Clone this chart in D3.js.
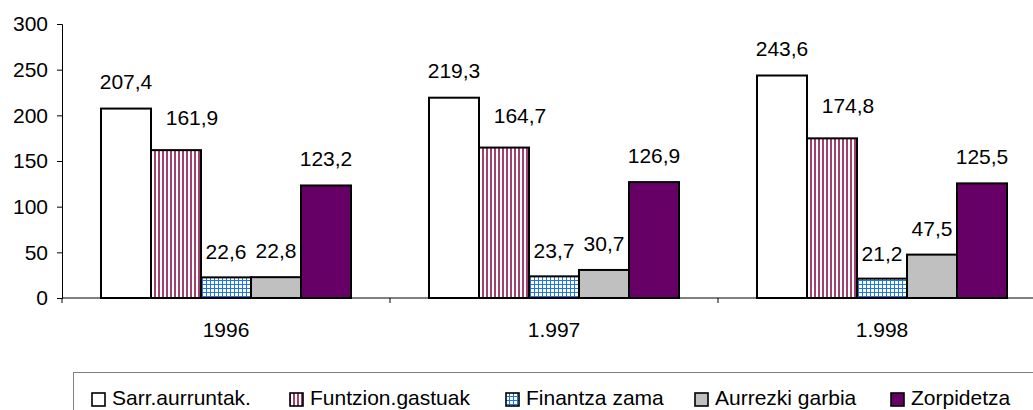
<!DOCTYPE html>
<html>
<head>
<meta charset="utf-8">
<script src="https://cdn.jsdelivr.net/npm/d3@7"></script>
<style>
  body { margin: 0; background: #fff; }
  svg { display: block; font-family: "Liberation Sans", Arial, sans-serif; }
</style>
</head>
<body>
<script>
// data
var urteak = ["1996", "1.997", "1.998"];
var serieak = ["Sarr.aurruntak.", "Funtzion.gastuak", "Finantza zama", "Aurrezki garbia", "Zorpidetza"];
var balioak = [
  [207.4, 219.3, 243.6],
  [161.9, 164.7, 174.8],
  [22.6, 23.7, 21.2],
  [22.8, 30.7, 47.5],
  [123.2, 126.9, 125.5]
];
var yTicks = [0, 50, 100, 150, 200, 250, 300];

var W = 1033, H = 410;
var margin = {top: 24, left: 62, bottom: 112};
var catW = 328;
var fs = "21px";

var svg = d3.select("body").append("svg")
    .attr("width", W)
    .attr("height", H);

var defs = svg.append("defs");

// marra bertikalak
var p1 = defs.append("pattern").attr("id", "marrak")
    .attr("patternUnits", "userSpaceOnUse").attr("width", 4).attr("height", 4);
p1.append("rect").attr("width", 4).attr("height", 4).attr("fill", "#fff");
p1.append("rect").attr("x", 0).attr("width", 2).attr("height", 4).attr("fill", "#a0406e");

// sareta urdina
var p2 = defs.append("pattern").attr("id", "sareta")
    .attr("patternUnits", "userSpaceOnUse").attr("width", 4).attr("height", 4);
p2.append("rect").attr("width", 4).attr("height", 4).attr("fill", "#fff");
p2.append("rect").attr("x", 0).attr("width", 1).attr("height", 4).attr("fill", "#1f78e0");
p2.append("rect").attr("y", 0).attr("width", 4).attr("height", 1).attr("fill", "#1f78e0");

var fills = ["#ffffff", "url(#marrak)", "url(#sareta)", "#c0c0c0", "#660066"];
var labelDx = [0, 16, 0, 0, 0];
var labelDy = [-20, -25, -18, -19, -19];

var x0 = d3.scaleBand().domain(urteak).range([margin.left, margin.left + catW * urteak.length]);
var x1 = d3.scaleBand().domain(d3.range(serieak.length)).range([39, catW - 39]);
var y = d3.scaleLinear().domain([0, 300]).range([H - margin.bottom, margin.top]);

// ardatz horizontala
var xAxis = svg.append("g")
    .attr("transform", "translate(0," + y(0) + ")");
xAxis.append("line")
    .attr("x1", margin.left).attr("x2", margin.left + catW * urteak.length)
    .attr("stroke", "#000").attr("stroke-width", 1);
xAxis.selectAll(".sep")
    .data(d3.range(urteak.length + 1))
  .enter().append("line")
    .attr("x1", function(i) { return margin.left + i * catW; })
    .attr("x2", function(i) { return margin.left + i * catW; })
    .attr("y1", 0).attr("y2", 5)
    .attr("stroke", "#000");
xAxis.selectAll(".cat")
    .data(urteak)
  .enter().append("text")
    .attr("x", function(d) { return x0(d) + catW / 2; })
    .attr("y", 39)
    .attr("text-anchor", "middle")
    .attr("font-size", fs)
    .text(function(d) { return d; });

// ardatz bertikala
var yAxis = svg.append("g")
    .attr("transform", "translate(" + margin.left + ",0)")
    .call(d3.axisLeft(y).tickValues(yTicks).tickSize(5).tickPadding(9));
yAxis.select(".domain").attr("stroke", "#000");
yAxis.selectAll(".tick line").attr("stroke", "#000");
yAxis.selectAll("text")
    .attr("font-size", fs)
    .attr("fill", "#000")
    .attr("font-family", "Liberation Sans, Arial, sans-serif");

// barrak
var taldeak = svg.selectAll(".taldea")
    .data(urteak)
  .enter().append("g")
    .attr("class", "taldea")
    .attr("transform", function(d) { return "translate(" + x0(d) + ",0)"; });

taldeak.selectAll("rect")
    .data(function(d, j) { return serieak.map(function(s, i) { return {i: i, v: balioak[i][j]}; }); })
  .enter().append("rect")
    .attr("x", function(d) { return x1(d.i); })
    .attr("width", x1.bandwidth())
    .attr("y", function(d) { return y(d.v); })
    .attr("height", function(d) { return y(0) - y(d.v); })
    .attr("fill", function(d) { return fills[d.i]; })
    .attr("stroke", "#000")
    .attr("stroke-width", 2);

taldeak.selectAll("text")
    .data(function(d, j) { return serieak.map(function(s, i) { return {i: i, v: balioak[i][j]}; }); })
  .enter().append("text")
    .attr("x", function(d) { return x1(d.i) + x1.bandwidth() / 2 + labelDx[d.i]; })
    .attr("y", function(d) { return y(d.v) + labelDy[d.i]; })
    .attr("text-anchor", "middle")
    .attr("font-size", fs)
    .text(function(d) { return d3.format(".1f")(d.v).replace(".", ","); });

// legenda
var legX = [91, 289, 505, 694, 890];
var leg = svg.append("g");
leg.append("rect")
    .attr("x", 73.5).attr("y", 372.5)
    .attr("width", 1000).attr("height", 60)
    .attr("fill", "#fff").attr("stroke", "#808080");

var item = leg.selectAll(".item")
    .data(serieak)
  .enter().append("g")
    .attr("transform", function(d, i) { return "translate(" + legX[i] + ",0)"; });
item.append("rect")
    .attr("x", 1).attr("y", 393)
    .attr("width", 13).attr("height", 13)
    .attr("fill", function(d, i) { return fills[i]; })
    .attr("stroke", "#000").attr("stroke-width", 1.6);
item.append("text")
    .attr("x", 21).attr("y", 405)
    .attr("font-size", fs)
    .text(function(d) { return d; });
</script>
</body>
</html>
